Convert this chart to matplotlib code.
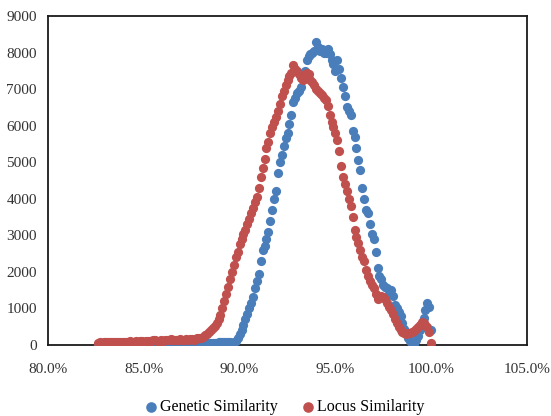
import numpy as np
import matplotlib
matplotlib.use("Agg")
import matplotlib.pyplot as plt
from matplotlib.ticker import PercentFormatter, MultipleLocator

# similarity (fraction) on a 0.1% grid, 82.6% .. 100.0%
similarity = np.arange(826, 1001) / 1000.0

genetic = [
    0, 0, 0, 0, 0,
    0, 0, 0, 0, 0, 0, 0, 0, 0, 0,
    0, 0, 10, 0, 10, 10, 0, 10, 10, 10,
    10, 10, 10, 10, 20, 10, 20, 10, 20, 20,
    20, 20, 20, 30, 20, 30, 20, 30, 30, 30,
    30, 30, 30, 30, 30, 40, 40, 40, 40, 40,
    40, 40, 50, 50, 50, 60, 60, 60, 70, 70,
    70, 80, 80, 80, 70, 60, 80, 120, 200, 300,
    420, 550, 700, 850, 1000, 1150, 1300, 1550, 1750, 1950,
    2300, 2600, 2700, 2900, 3100, 3400, 3700, 4000, 4200, 4700,
    5000, 5200, 5450, 5650, 5800, 6050, 6300, 6650, 6750, 6900,
    6950, 7050, 7300, 7500, 7800, 7900, 7950, 8000, 8050, 8300,
    8150, 8050, 8100, 8000, 8000, 8100, 7950, 7800, 7700, 7500,
    7800, 7550, 7300, 7050, 6800, 6500, 6400, 6300, 5850, 5700,
    5400, 5050, 4800, 4300, 4000, 3700, 3600, 3300, 3050, 2900,
    2550, 2100, 1900, 1800, 1650, 1600, 1550, 1400, 1500, 1350,
    1100, 1000, 900, 800, 600, 450, 350, 200, 100, 20,
    30, 150, 250, 400, 550, 750, 950, 1150, 1050, 400,
]

locus = [
    60, 70, 60, 80, 70,
    70, 80, 90, 70, 80, 90, 80, 70, 90, 80,
    90, 80, 100, 90, 80, 100, 90, 110, 100, 90,
    110, 100, 120, 110, 130, 150, 120, 110, 130, 120,
    140, 130, 150, 170, 140, 130, 150, 140, 160, 150,
    140, 160, 150, 170, 160, 150, 170, 180, 190, 200,
    230, 260, 300, 350, 400, 460, 530, 600, 700, 820,
    1000, 1200, 1400, 1600, 1800, 2000, 2200, 2400, 2550, 2750,
    2900, 3050, 3150, 3300, 3450, 3600, 3750, 3900, 4050, 4300,
    4600, 4850, 5100, 5400, 5550, 5800, 5950, 6100, 6250, 6400,
    6600, 6800, 6950, 7100, 7250, 7350, 7450, 7650, 7550, 7500,
    7400, 7300, 7250, 7350, 7450, 7400, 7250, 7200, 7100, 7000,
    6950, 6900, 6850, 6750, 6700, 6550, 6300, 6100, 5950, 5800,
    5600, 5300, 4900, 4600, 4400, 4200, 4000, 3800, 3500, 3150,
    2950, 2800, 2600, 2400, 2300, 2050, 1900, 1750, 1650, 1550,
    1400, 1250, 1300, 1350, 1300, 1250, 1150, 1050, 950, 850,
    700, 600, 500, 420, 350, 320, 300, 330, 340, 350,
    380, 430, 480, 550, 620, 600, 560, 480, 350, 50,
]

plt.rcParams["font.family"] = ["Liberation Serif", "DejaVu Serif"]

fig = plt.figure(figsize=(5.51, 4.16), dpi=100)
ax = fig.add_axes([48 / 551, 71 / 416, 479 / 551, 329 / 416])

ax.scatter(similarity, genetic, s=44, color="#4a7ebb", linewidths=0,
           label="Genetic Similarity", zorder=3)
ax.scatter(similarity, locus, s=44, color="#c0504d", linewidths=0,
           label="Locus Similarity", zorder=4)

ax.set_xlim(0.80, 1.05)
ax.set_ylim(0, 9000)
ax.xaxis.set_major_locator(MultipleLocator(0.05))
ax.yaxis.set_major_locator(MultipleLocator(1000))
ax.xaxis.set_major_formatter(PercentFormatter(xmax=1.0, decimals=1))
ax.tick_params(axis="both", length=0, labelsize=11, colors="#333333")
ax.tick_params(axis="x", pad=13)
ax.tick_params(axis="y", pad=8)
for sp in ax.spines.values():
    sp.set_color("#1a1a1a")
    sp.set_linewidth(1.3)

fig.legend(loc="center", bbox_to_anchor=(285 / 551, 9 / 416), ncol=2,
           frameon=False, fontsize=11.5, handlelength=0.7, handletextpad=0.25,
           columnspacing=1.5, markerscale=1.15, borderaxespad=0)

fig.savefig("out.png", dpi=100)
